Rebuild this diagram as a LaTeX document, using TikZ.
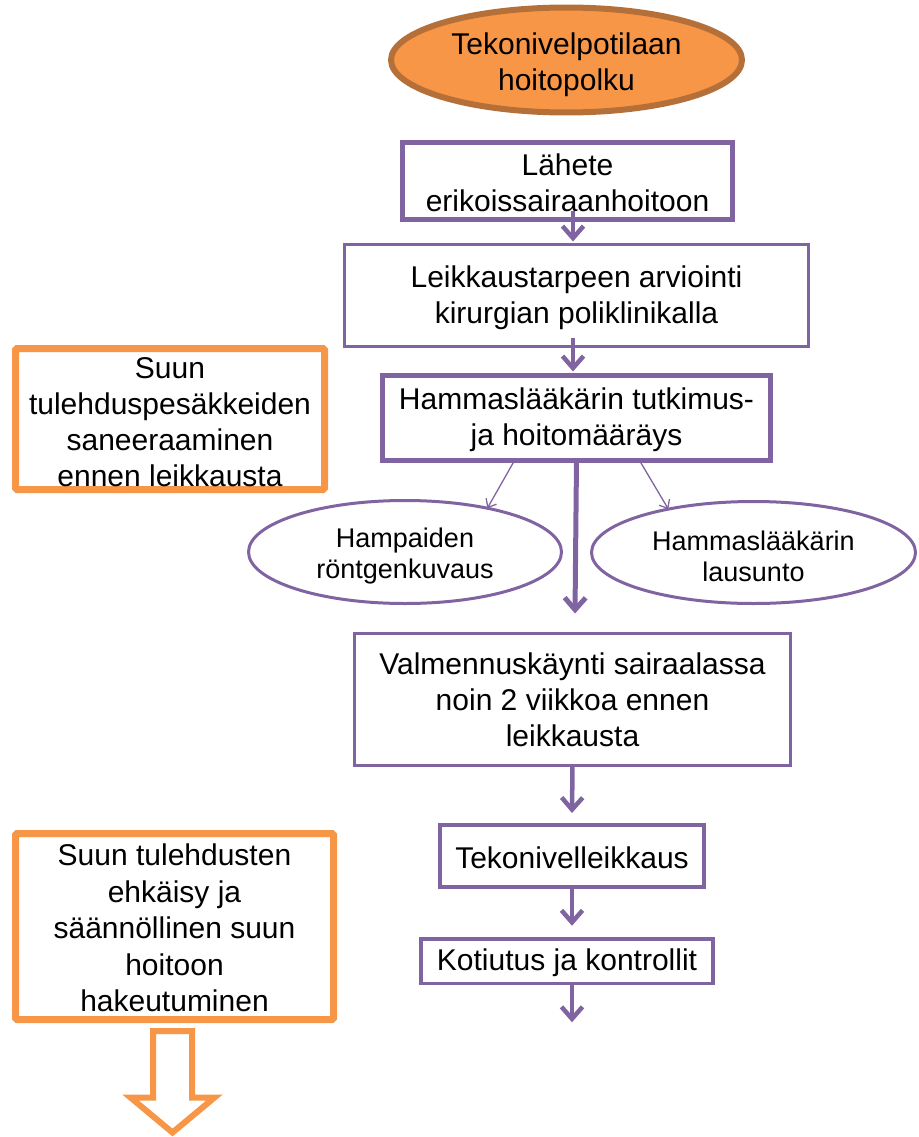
\documentclass[tikz,border=0pt]{standalone}
\usepackage{fontspec}
\setmainfont{Liberation Sans}
\usetikzlibrary{arrows.meta,shapes.geometric,calc}
\definecolor{purp}{HTML}{8064A2}
\definecolor{orng}{HTML}{F79646}
\definecolor{brn}{HTML}{B5703A}
\newcommand{\tsh}[1]{\rule{0pt}{#1}}
\begin{document}
\begin{tikzpicture}[x=1pt,y=-1pt,
  every node/.style={inner sep=0pt, outer sep=0pt, align=center, font=\fontsize{30}{36}\selectfont},
  pbox/.style={draw=purp, fill=white, rectangle},
  obox/.style={draw=orng, line width=7pt, rounded corners=1.5pt, fill=white, rectangle},
  pell/.style={draw=purp, line width=3pt, ellipse, fill=white, font=\fontsize{27}{31}\selectfont},
  arr/.style={draw=purp, line width=4.5pt, -{Straight Barb[length=12pt,width=21pt]}},
  thinarr/.style={draw=purp, line width=1.3pt, -{Straight Barb[length=7pt,width=12pt]}},
  bigarr/.style={draw=orng, line width=6pt, fill=white, line join=miter},
]
\useasboundingbox (0,0) rectangle (918,1137);

\node[draw=brn, fill=orng, line width=6pt, ellipse, minimum width=351pt, minimum height=100pt] (top) at (566.5,60) {\tsh{32pt}Tekonivelpotilaan\\hoitopolku};
\node[pbox, line width=5pt, minimum width=330pt, minimum height=77pt] (l1) at (567.5,181) {\tsh{26pt}Lähete\\erikoissairaanhoitoon};
\node[pbox, line width=3pt, minimum width=464pt, minimum height=102pt] (l2) at (576.5,295.5) {\tsh{26pt}Leikkaustarpeen arviointi\\kirurgian poliklinikalla};
\node[pbox, line width=5pt, minimum width=388pt, minimum height=85pt] (hm) at (576.5,418) {\tsh{25pt}Hammaslääkärin tutkimus-\\ja hoitomääräys};
\node[pell, minimum width=313pt, minimum height=103pt] (le) at (405,552) {\tsh{27pt}Hampaiden\\röntgenkuvaus};
\node[pell, minimum width=324pt, minimum height=102pt] (re) at (753.5,552.5) {\tsh{27pt}Hammaslääkärin\\lausunto};
\node[pbox, line width=3pt, minimum width=436pt, minimum height=132pt] (vm) at (572.5,699.5) {Valmennuskäynti sairaalassa\\noin 2 viikkoa ennen\\leikkausta};
\node[pbox, line width=4pt, minimum width=264pt, minimum height=62pt] (tk) at (572,856) {\tsh{25pt}Tekonivelleikkaus};
\node[pbox, line width=3.5pt, minimum width=292pt, minimum height=44.5pt] (kt) at (567,961) {\tsh{25pt}Kotiutus ja kontrollit};
\node[obox, minimum width=309pt, minimum height=141pt] (ob1) at (170,419) {\tsh{27pt}Suun\\tulehduspesäkkeiden\\saneeraaminen\\ennen leikkausta};
\node[obox, minimum width=318pt, minimum height=186pt, font=\fontsize{30}{36.5}\selectfont] (ob2) at (174.5,926.5) {\tsh{25pt}Suun tulehdusten\\ehkäisy ja\\säännöllinen suun\\hoitoon\\hakeutuminen};

\coordinate (e1) at ($(vm.north)+(2.5,-20)$);
\coordinate (kend) at ($(kt.south)+(5,39)$);

\draw[arr] ($(l1.south)+(5.5,-9)$) -- ($(l2.north)+(-3.5,-3)$);
\draw[arr] ($(l2.south)+(-3.5,-9)$) -- ($(hm.north)+(-3.5,-4)$);
\draw[arr, line width=5pt] (hm.south) -- (e1);
\draw[thinarr] ($(hm.south)+(-62,0)$) -- (le.28);
\draw[thinarr] ($(hm.south)+(63,0)$) -- (re.153);
\draw[arr] (vm.south) -- ($(tk.north)+(0,-12)$);
\draw[arr] (tk.south) -- ($(kt.north)+(5,-13)$);
\draw[arr] ($(kt.south)+(5,0)$) -- (kend);

\coordinate (oa) at ($(ob2.south)+(-2,0)$);
\draw[bigarr] ($(oa)+(-19.5,11.5)$) -- ($(oa)+(19.5,11.5)$) -- ($(oa)+(19.5,78)$) -- ($(oa)+(42,78)$) -- ($(oa)+(0,113)$) -- ($(oa)+(-42,78)$) -- ($(oa)+(-19.5,78)$) -- cycle;
\end{tikzpicture}
\end{document}
